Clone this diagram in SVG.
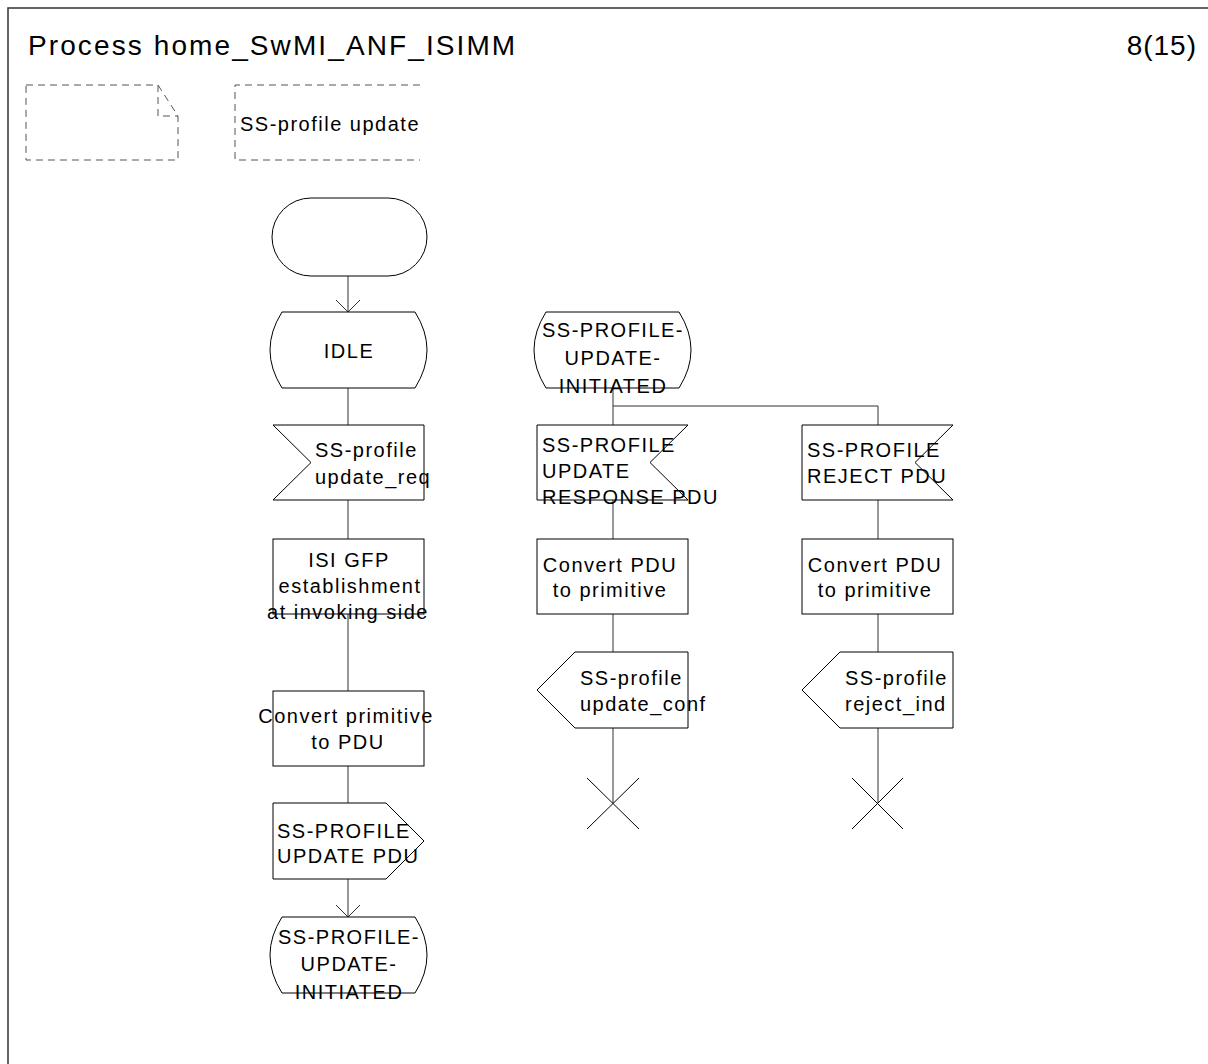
<svg xmlns="http://www.w3.org/2000/svg" width="1208" height="1064" viewBox="0 0 1208 1064">
<style>
.sym{fill:#fff;stroke:#000;stroke-width:1}
.con{fill:none;stroke:#333;stroke-width:1}
.dash{fill:none;stroke:#555;stroke-width:1;stroke-dasharray:7 5}
text{font-family:"Liberation Sans",Arial,sans-serif;font-size:20px;fill:#000;letter-spacing:1.5px}
.t{font-size:28px;letter-spacing:2.1px}
.m{text-anchor:middle}
</style>
<defs>
<marker id="arr" viewBox="-13 -13 14 26" markerWidth="14" markerHeight="26" refX="0" refY="0" orient="auto" markerUnits="userSpaceOnUse">
<path d="M-12,-12 L0,0 L-12,12" fill="none" stroke="#333" stroke-width="1"/>
</marker>
</defs>
<rect x="0" y="0" width="1208" height="1064" fill="#fff"/>
<rect id="frame" x="8" y="8" width="1220" height="1080" fill="none" stroke="#333" stroke-width="1.5"/>
<text class="t" x="28" y="55">Process home_SwMI_ANF_ISIMM</text>
<text class="t" x="1197" y="55" style="text-anchor:end;letter-spacing:1px">8(15)</text>
<g id="page-icon">
<path class="dash" d="M26,85 L158,85 L178,116 L178,160 L26,160 Z M158,85 L158,116 L178,116"/>
</g>
<g id="title-box">
<path class="dash" d="M420,85 L235,85 L235,160 L420,160"/>
<text x="240" y="131">SS-profile update</text>
</g>
<g id="connectors">
<path class="con" d="M348,276 L348,312" marker-end="url(#arr)"/>
<path class="con" d="M348,388 L348,425"/>
<path class="con" d="M348,500 L348,539"/>
<path class="con" d="M348,614 L348,691"/>
<path class="con" d="M348,766 L348,803"/>
<path class="con" d="M348,879 L348,917" marker-end="url(#arr)"/>
<path class="con" d="M613,388 L613,425"/>
<path class="con" d="M613,406 L878,406 L878,425"/>
<path class="con" d="M613,500 L613,539"/>
<path class="con" d="M613,614 L613,652"/>
<path class="con" d="M613,728 L613,803"/>
<path class="con" d="M878,500 L878,539"/>
<path class="con" d="M878,614 L878,652"/>
<path class="con" d="M878,728 L878,803"/>
</g>
<g id="start">
<path class="sym" d="M311,198 L388,198 A39,39 0 0 1 388,276 L311,276 A39,39 0 0 1 311,198 Z"/>
</g>
<g id="state-idle">
<path class="sym" d="M282,312 L415,312 Q439,350 415,388 L282,388 Q258,350 282,312 Z"/>
<text class="m" x="349" y="358">IDLE</text>
</g>
<g id="input-update-req">
<path class="sym" d="M273,425 L424,425 L424,500 L273,500 L311,462.5 Z"/>
<text x="315" y="457">SS-profile</text>
<text x="315" y="484">update_req</text>
</g>
<g id="task-isi-gfp">
<rect class="sym" x="273" y="539" width="151" height="75"/>
<text class="m" x="349" y="567">ISI GFP</text>
<text class="m" x="350" y="593">establishment</text>
<text class="m" x="348" y="619">at invoking side</text>
</g>
<g id="task-convert-prim">
<rect class="sym" x="273" y="691" width="151" height="75"/>
<text class="m" x="346" y="723">Convert primitive</text>
<text class="m" x="348" y="749">to PDU</text>
</g>
<g id="output-update-pdu">
<path class="sym" d="M273,803 L386,803 L424,841 L386,879 L273,879 Z"/>
<text x="277" y="838">SS-PROFILE</text>
<text x="277" y="863">UPDATE PDU</text>
</g>
<g id="state-initiated-1">
<path class="sym" d="M282,917 L415,917 Q439,955 415,993 L282,993 Q258,955 282,917 Z"/>
<text class="m" x="349" y="944">SS-PROFILE-</text>
<text class="m" x="349" y="971">UPDATE-</text>
<text class="m" x="349" y="999">INITIATED</text>
</g>
<g id="state-initiated-2">
<path class="sym" d="M546,312 L679,312 Q703,350 679,388 L546,388 Q522,350 546,312 Z"/>
<text class="m" x="613" y="337">SS-PROFILE-</text>
<text class="m" x="613" y="365">UPDATE-</text>
<text class="m" x="613" y="393">INITIATED</text>
</g>
<g id="input-update-response">
<path class="sym" d="M537,425 L688,425 L650,462.5 L688,500 L537,500 Z"/>
<text x="542" y="452">SS-PROFILE</text>
<text x="542" y="478">UPDATE</text>
<text x="542" y="504">RESPONSE PDU</text>
</g>
<g id="task-convert-pdu-1">
<rect class="sym" x="537" y="539" width="151" height="75"/>
<text class="m" x="610" y="572">Convert PDU</text>
<text class="m" x="610" y="597">to primitive</text>
</g>
<g id="output-update-conf">
<path class="sym" d="M575,652 L688,652 L688,728 L575,728 L537,690 Z"/>
<text x="580" y="685">SS-profile</text>
<text x="580" y="711">update_conf</text>
</g>
<g id="stop-1">
<path class="con" style="stroke:#000" d="M587,778 L639,829 M639,778 L587,829"/>
</g>
<g id="input-reject">
<path class="sym" d="M802,425 L953,425 L915,462.5 L953,500 L802,500 Z"/>
<text x="807" y="457">SS-PROFILE</text>
<text x="807" y="483">REJECT PDU</text>
</g>
<g id="task-convert-pdu-2">
<rect class="sym" x="802" y="539" width="151" height="75"/>
<text class="m" x="875" y="572">Convert PDU</text>
<text class="m" x="875" y="597">to primitive</text>
</g>
<g id="output-reject-ind">
<path class="sym" d="M840,652 L953,652 L953,728 L840,728 L802,690 Z"/>
<text x="845" y="685">SS-profile</text>
<text x="845" y="711">reject_ind</text>
</g>
<g id="stop-2">
<path class="con" style="stroke:#000" d="M852,778 L903,829 M903,778 L852,829"/>
</g>
</svg>
